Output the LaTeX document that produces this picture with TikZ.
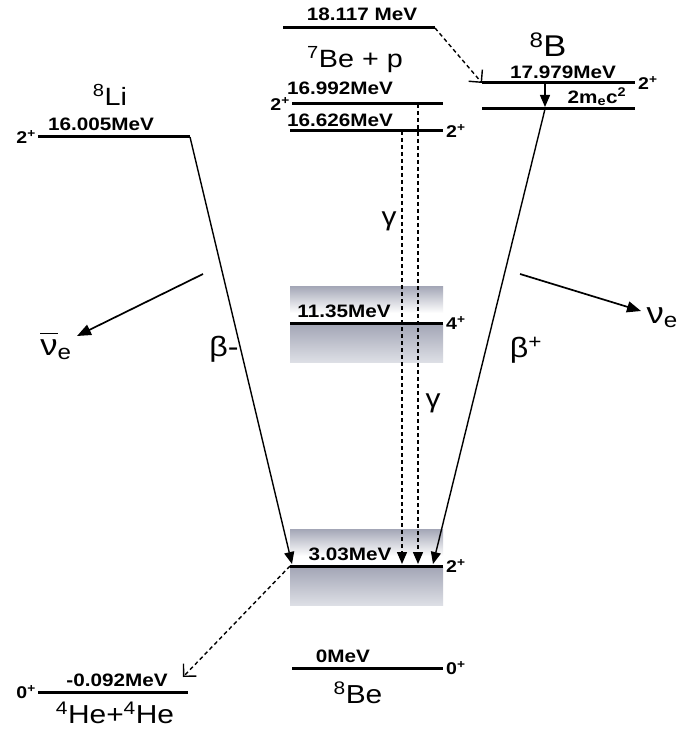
\documentclass[tikz,border=0pt]{standalone}
\usepackage{fontspec}
\setmainfont{Liberation Sans}
\newfontfamily\widefont[FakeStretch=1.15]{Liberation Sans}
\usetikzlibrary{positioning,arrows.meta}
\definecolor{BandDark}{HTML}{6E7389}
\definecolor{BandMid}{HTML}{A3A6B6}
\definecolor{BandLight}{HTML}{DDDFE5}

\begin{document}
\begin{tikzpicture}[x=1pt,y=-1pt,
  level/.style={line width=3pt},
  decay/.style={line width=1.4pt,-{Triangle[length=12pt,width=10pt]}},
  gam/.style={line width=1.4pt,dash pattern=on 4pt off 3pt,-{Triangle[length=12pt,width=10pt]}},
  feed/.style={line width=1.4pt,dash pattern=on 4pt off 3pt,-{Straight Barb[length=9pt,width=18pt]}},
  nuarrow/.style={line width=1.7pt,-{Triangle[length=14pt,width=11pt]}},
  mev/.style={font=\widefont\bfseries\fontsize{18}{18}\selectfont,inner sep=0pt},
  spin/.style={font=\widefont\bfseries\fontsize{17}{17}\selectfont,inner sep=1pt},
  nucl/.style={font=\widefont\fontsize{25}{25}\selectfont,inner sep=0pt},
  greek/.style={font=\widefont\fontsize{28}{28}\selectfont,inner sep=0pt}]
  \useasboundingbox[fill=white] (0,0) rectangle (681,735);

  % broadened 8Be states
  \foreach \ly in {323,566} {
    \shade[top color=BandMid,middle color=BandDark,bottom color=white] (290,\ly-37) rectangle (443,\ly-10);
    \shade[top color=BandMid,middle color=BandDark,bottom color=BandLight] (290,\ly+1) rectangle (443,\ly+39);
  }

  % level ends
  \coordinate (p18l) at (283,28);   \coordinate (p18r) at (435,28);
  \coordinate (b17l) at (482,83);   \coordinate (b17r) at (635,83);
  \coordinate (b2ml) at (482,109);  \coordinate (b2mr) at (635,109);
  \coordinate (lil) at (38,137);    \coordinate (lir) at (190,137);
  \coordinate (be169l) at (292,104); \coordinate (be169r) at (443,104);
  \coordinate (be166l) at (290,131); \coordinate (be166r) at (443,131);
  \coordinate (be11l) at (290,323); \coordinate (be11r) at (443,323);
  \coordinate (be3l) at (290,566);  \coordinate (be3r) at (443,566);
  \coordinate (be0l) at (292,668);  \coordinate (be0r) at (443,668);
  \coordinate (hel) at (38,692);    \coordinate (her) at (188,692);

  \draw[level] (p18l) -- (p18r);
  \draw[level] (b17l) -- (b17r);
  \draw[level] (b2ml) -- (b2mr);
  \draw[level] (lil) -- (lir);
  \draw[level] (be169l) -- (be169r);
  \draw[level] (be166l) -- (be166r);
  \draw[level] (be11l) -- (be11r);
  \draw[level] (be3l) -- (be3r);
  \draw[level] (be0l) -- (be0r);
  \draw[level] (hel) -- (her);

  % energies
  \node[mev] (e18) at (362,14) {18.117 MeV};
  \node[mev] (e169) at (340,88) {16.992MeV};
  \node[mev] (e166) at (340,120) {16.626MeV};
  \node[mev] (e179) at (563,72) {17.979MeV};
  \node[mev] (e2m) at (597,97) {2m\textsubscript{e}c\textsuperscript{2}};
  \node[mev] (e160) at (101,124) {16.005MeV};
  \node[mev] (e11) at (344,311) {11.35MeV};
  \node[mev] (e3) at (350,554) {3.03MeV};
  \node[mev] (e0) at (343,656) {0MeV};
  \node[mev] (e092) at (117,680) {-0.092MeV};

  % spins
  \node[spin,left=1pt of be169l] (s169) {2\textsuperscript{+}};
  \node[spin,right=2pt of be166r] (s166) {2\textsuperscript{+}};
  \node[spin,right=2pt of b17r] (s179) {2\textsuperscript{+}};
  \node[spin,left=1pt of lil] (s160) {2\textsuperscript{+}};
  \node[spin,right=2pt of be11r] (s11) {4\textsuperscript{+}};
  \node[spin,right=2pt of be3r] (s3) {2\textsuperscript{+}};
  \node[spin,right=2pt of be0r] (s0) {0\textsuperscript{+}};
  \node[spin,left=1pt of hel] (s092) {0\textsuperscript{+}};

  % nuclei
  \node[nucl] (bep) at (355,60) {\textsuperscript{7}Be + p};
  \node[nucl,font=\widefont\fontsize{30}{30}\selectfont] (b8) at (548,45) {\textsuperscript{8}B};
  \node[nucl] (li8) at (110,95) {\textsuperscript{8}Li};
  \node[nucl,font=\widefont\fontsize{26}{26}\selectfont] (be8) at (358,693) {\textsuperscript{8}Be};
  \node[nucl,font=\widefont\fontsize{26}{26}\selectfont] (he4) at (115,713) {\textsuperscript{4}He+\textsuperscript{4}He};

  % transitions
  \coordinate (b17a) at (545,84);  \coordinate (b2ma) at (545,107);
  \coordinate (b2mb) at (545,109);
  \coordinate (be3a) at (292,564); \coordinate (be3b) at (433,564);
  \coordinate (g1t) at (418,104);  \coordinate (g1b) at (418,564);
  \coordinate (g2t) at (402,131);  \coordinate (g2b) at (402,564);
  \coordinate (het) at (183,677);
  \draw[feed] (p18r) -- (b17l);
  \draw[decay] (b17a) -- (b2ma);
  \draw[decay] (lir) -- (be3a);
  \draw[decay] (b2mb) -- (be3b);
  \draw[gam] (g1t) -- (g1b);
  \draw[gam] (g2t) -- (g2b);
  \draw[feed] (be3l) -- (het);

  \node[greek,font=\widefont\fontsize{26}{26}\selectfont] (gam1) at (389,221) {γ};
  \node[greek,font=\widefont\fontsize{26}{26}\selectfont] (gam2) at (433,403) {γ};
  \node[greek] (bm) at (224,349) {β-};
  \node[greek] (bp) at (526,350) {β\textsuperscript{+}};

  % neutrinos
  \coordinate (nubs) at (203,274); \coordinate (nube) at (77,336);
  \coordinate (nus) at (520,274);  \coordinate (nue) at (641,311);
  \draw[nuarrow] (nubs) -- (nube);
  \draw[nuarrow] (nus) -- (nue);
  \node[font=\widefont\fontsize{30}{30}\selectfont,inner sep=0pt] (nub) at (56,346)
    {$\overline{\mbox{\vphantom{H}ν}}_{\mbox{\widefont\fontsize{21}{21}\selectfont e}}$};
  \node[font=\widefont\fontsize{30}{30}\selectfont,inner sep=0pt,anchor=east] (nu) at (678,318)
    {$\mbox{ν}_{\mbox{\widefont\fontsize{21}{21}\selectfont e}}$};
\end{tikzpicture}
\end{document}
